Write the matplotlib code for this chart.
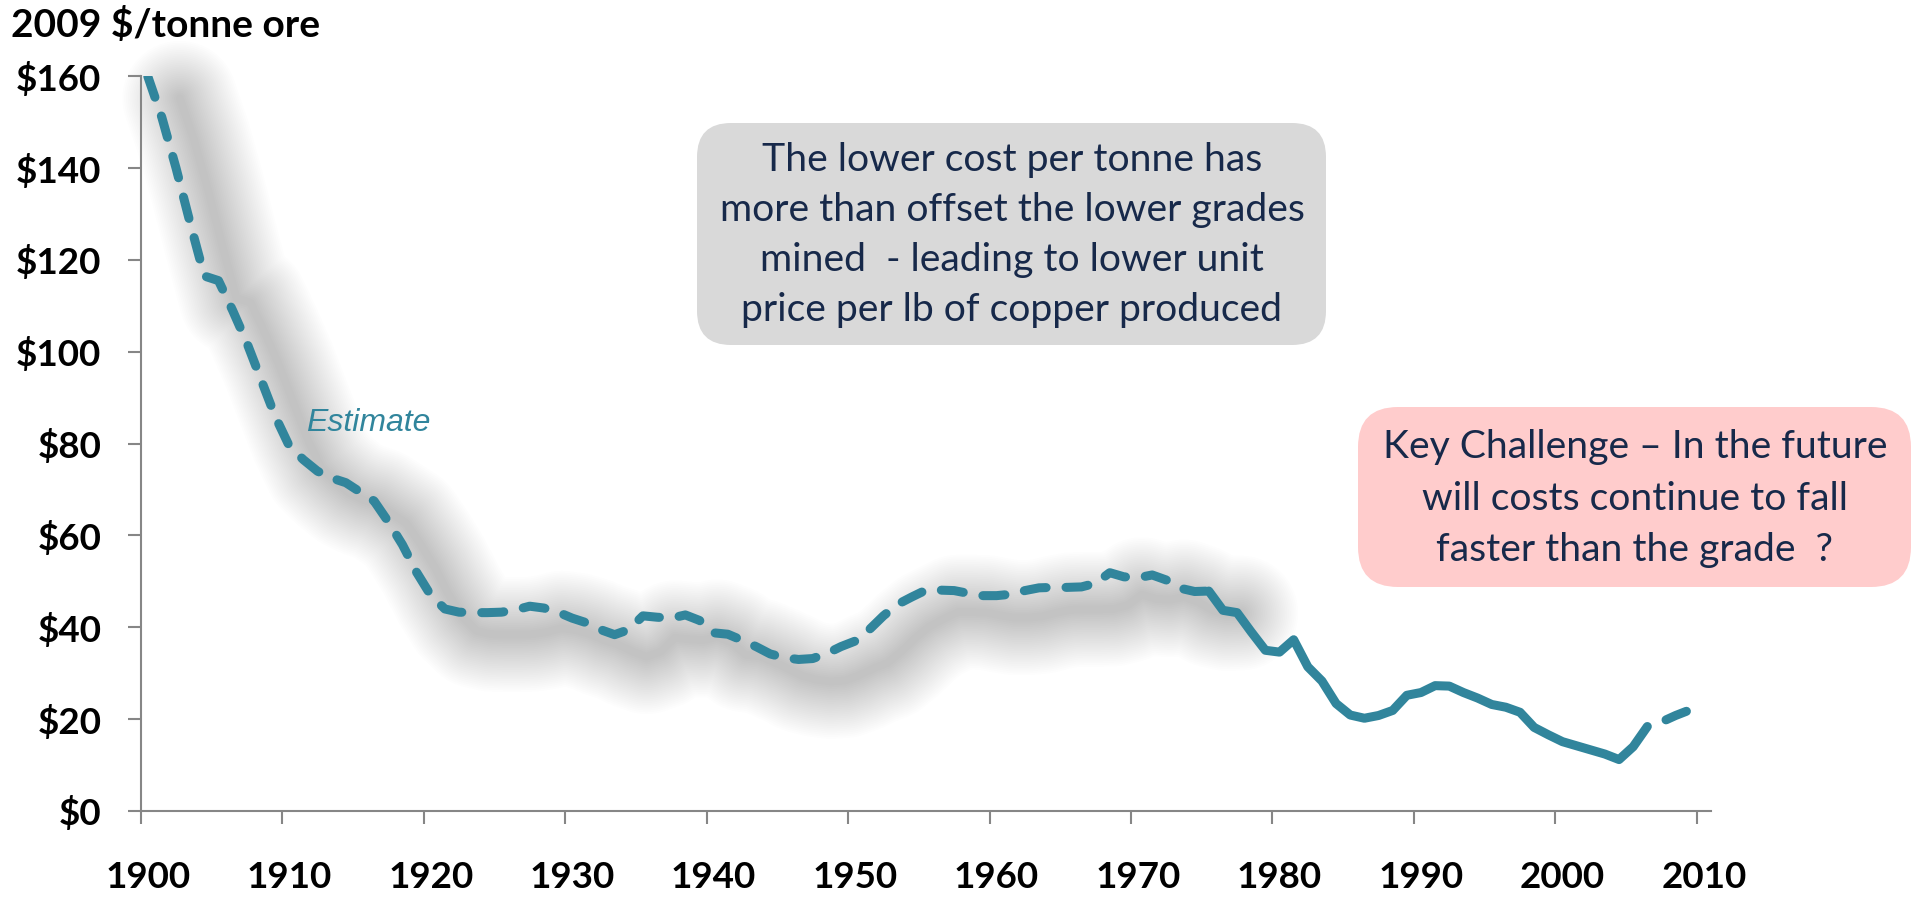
import numpy as np
import matplotlib
matplotlib.use("Agg")
import matplotlib.pyplot as plt
import matplotlib.transforms as mtransforms
from matplotlib.patches import FancyBboxPatch

plt.rcParams["font.family"] = ["Lato", "DejaVu Sans"]

# copper mining cost, 2009 $ per tonne of ore
EST_YEARS = list(range(1900, 1976))
EST_COST = [
    160, 151, 140, 128, 116.5, 115.5, 109, 102, 94, 86,
    79.5, 76.5, 74, 72.5, 71.5, 69.5, 67.5, 63, 58, 52,
    47, 44, 43.3, 43.2, 43.2, 43.3, 43.8, 44.6, 44.2, 43.3,
    42, 41, 39.5, 38.4, 39.5, 42.5, 42.2, 42, 42.7, 41.5,
    38.8, 38.5, 37.2, 35.8, 34.2, 33.4, 33.0, 33.2, 34.3, 35.8,
    37, 39.5, 42.5, 45, 46.6, 48.1, 48.1, 48, 47.4, 46.9,
    46.9, 47.2, 48, 48.6, 48.7, 48.7, 48.8, 49.6, 51.9, 51,
    50.8, 51.4, 50.3, 48.5, 47.8, 47.9,
]
ACT_YEARS = list(range(1975, 2007))
ACT_COST = [
    47.9, 43.7, 43.2, 39, 35, 34.6, 37.3, 31.4, 28.3, 23.4,
    20.9, 20.2, 20.8, 21.9, 25.2, 25.8, 27.3, 27.2, 25.8, 24.6,
    23.2, 22.6, 21.5, 18.2, 16.6, 15.1, 14.2, 13.3, 12.4, 11.2,
    14.0, 18.4,
]
FC_YEARS = [2006, 2007, 2008, 2009]
FC_COST = [18.4, 19.4, 20.8, 22.0]

Y_TICKS = list(range(0, 161, 20))
DECADES = list(range(1900, 2011, 10))

BOX1_LINES = [
    "The lower cost per tonne has",
    "more than offset the lower grades",
    "mined  - leading to lower unit",
    "price per lb of copper produced",
]
BOX2_LINES = [
    "Key Challenge \u2013 In the future",
    "will costs continue to fall",
    "faster than the grade  ?",
]

TEAL = "#31859C"
AXIS_GREY = "#868686"
NAVY = "#17294A"
LW = 6.5
DASH = (2.45, 2.2)

W, H = 1916, 899
fig = plt.figure(figsize=(W / 100, H / 100), dpi=100)
ax = fig.add_axes([140.7 / W, 1 - 811 / H, (1711 - 140.7) / W, (811 - 76.3) / H])

# categories are centred half a year right of the tick marks
ex = np.array(EST_YEARS) + 0.5
ax_ = np.array(ACT_YEARS) + 0.5
fx = np.array(FC_YEARS) + 0.5

# soft drop shadow under the estimate series (stacked translucent strokes)
shadow = mtransforms.offset_copy(ax.transData, fig=fig, x=32, y=-22, units="dots")
for w in np.linspace(115, 8, 30):
    ax.plot(ex, EST_COST, color="black", lw=w * 0.72, alpha=0.009,
            solid_capstyle="round", solid_joinstyle="round",
            transform=shadow, clip_on=False, zorder=1)

ax.plot(ex, EST_COST, color=TEAL, lw=LW, dashes=DASH,
        dash_capstyle="round", dash_joinstyle="round", zorder=3)
ax.plot(ax_, ACT_COST, color=TEAL, lw=LW,
        solid_capstyle="round", solid_joinstyle="round", zorder=3)
ax.plot(fx, FC_COST, color=TEAL, lw=LW, linestyle=(DASH[0], DASH),
        dash_capstyle="round", dash_joinstyle="round", zorder=3)

ax.set_xlim(1900, 2011)
ax.set_ylim(0, 160)
for s in ("top", "right"):
    ax.spines[s].set_visible(False)
for s in ("left", "bottom"):
    ax.spines[s].set_color(AXIS_GREY)
    ax.spines[s].set_linewidth(1.5)

ax.set_yticks(Y_TICKS, [f"${v}" for v in Y_TICKS])
ax.set_xticks(DECADES, [""] * len(DECADES))
ax.set_xticks(np.array(DECADES) + 0.5, [str(d) for d in DECADES], minor=True)
ax.tick_params(axis="both", which="major", color=AXIS_GREY, width=1.5, length=9.4,
               labelsize=26.5, direction="out")
ax.tick_params(axis="y", pad=19)
ax.tick_params(axis="x", which="minor", length=0, pad=36, labelsize=26.5)
for lab in ax.get_yticklabels() + ax.get_xticklabels(minor=True):
    lab.set_fontweight("bold")

ax.text(1911.7, 84.5, "Estimate", color=TEAL, fontsize=23, style="italic",
        family=["Liberation Sans", "DejaVu Sans"], ha="left", va="center")

fig.text(11 / W, 1 - 37 / H, "2009 $/tonne ore", fontsize=28, fontweight="bold",
         ha="left", va="baseline")

# callout boxes drawn in pixel coordinates
ov = fig.add_axes([0, 0, 1, 1], zorder=5)
ov.set_xlim(0, W)
ov.set_ylim(H, 0)
ov.axis("off")
ov.patch.set_alpha(0)

ov.add_patch(FancyBboxPatch((697, 123), 1326 - 697, 345 - 123,
                            boxstyle="round,pad=0,rounding_size=34",
                            facecolor="#D9D9D9", edgecolor="none"))
for i, line in enumerate(BOX1_LINES):
    ov.text(1012, 160 + i * 50, line, fontsize=28.2, color=NAVY, ha="center", va="center")

ov.add_patch(FancyBboxPatch((1358, 407), 1911 - 1358, 587 - 407,
                            boxstyle="round,pad=0,rounding_size=40",
                            facecolor="#FFCCCC", edgecolor="none"))
for i, line in enumerate(BOX2_LINES):
    ov.text(1635, 447 + i * 51.5, line, fontsize=28.2, color=NAVY, ha="center", va="center")

fig.savefig("out.png", dpi=100)
